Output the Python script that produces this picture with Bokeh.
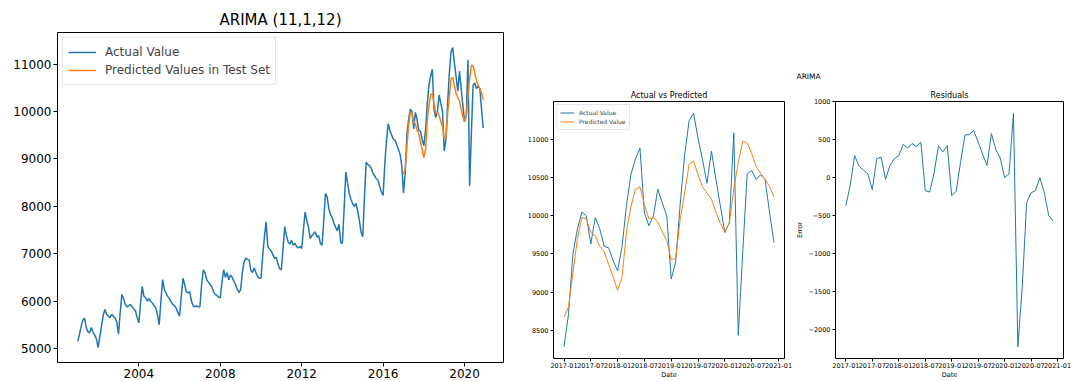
from bokeh.plotting import figure
from bokeh.layouts import row, column
from bokeh.models import Range1d, FixedTicker, Legend, LegendItem, Title
from bokeh.embed import file_html
from bokeh.resources import INLINE

FONT = "DejaVu Sans"
BLUE = "#1f77b4"
ORANGE = "#ff7f0e"

# ---- monthly actual values (training years) ----
actual_2001 = [5150, 5300, 5470, 5600, 5640, 5440, 5350, 5330, 5440, 5340, 5280, 5200]
actual_2002 = [5020, 5250, 5470, 5700, 5820, 5720, 5680, 5650, 5720, 5680, 5640, 5560]
actual_2003 = [5300, 5750, 6140, 6050, 5930, 5880, 5900, 5930, 5880, 5830, 5800, 5650]
actual_2004 = [5540, 5950, 6310, 6100, 6070, 6000, 6050, 5990, 5960, 5900, 5850, 5700]
actual_2005 = [5500, 6000, 6450, 6250, 6170, 6100, 6050, 5990, 5930, 5900, 5850, 5760]
actual_2006 = [5680, 6100, 6480, 6350, 6200, 6170, 6200, 6000, 5900, 5880, 5900, 5880]
actual_2007 = [5880, 6350, 6660, 6600, 6450, 6400, 6350, 6300, 6200, 6140, 6120, 6080]
actual_2008 = [6070, 6400, 6660, 6500, 6600, 6450, 6550, 6500, 6420, 6350, 6250, 6180]
actual_2009 = [6240, 6600, 6820, 6910, 6880, 6870, 6650, 6600, 6700, 6600, 6520, 6480]
actual_2010 = [6480, 6950, 7350, 7670, 7150, 7100, 7060, 6980, 6900, 6920, 6780, 6680]
actual_2011 = [6660, 7100, 7570, 7380, 7250, 7200, 7280, 7180, 7220, 7150, 7120, 7150]
actual_2012 = [7110, 7500, 7880, 7700, 7560, 7320, 7380, 7420, 7460, 7350, 7380, 7220]
actual_2013 = [7180, 7700, 8270, 8200, 7950, 7820, 7760, 7640, 7560, 7480, 7620, 7230]
actual_2014 = [7220, 7950, 8720, 8500, 8270, 8150, 8060, 8000, 8060, 7900, 7700, 7450]
actual_2015 = [7360, 8200, 8930, 8880, 8860, 8800, 8700, 8640, 8580, 8550, 8420, 8300]
actual_2016 = [8230, 8900, 9400, 9740, 9600, 9500, 9420, 9390, 9300, 9200, 9100, 8850]

# ---- test period 2017-01 .. 2020-12 ----
test_actual = [
    8280, 8700, 9500, 9830, 10050, 10000, 9630, 9980, 9830, 9600, 9580, 9410,
    9280, 9600, 10150, 10550, 10750, 10890, 10040, 9870, 10000, 10350, 10170, 10000,
    9170, 9400, 10150, 10800, 11250, 11350, 11020, 10740, 10430, 10850, 10480, 10130,
    9780, 9910, 11090, 8430, 9520, 10550, 10600, 10480, 10540, 10480, 10050, 9650]
test_predicted = [
    8670, 8800, 9250, 9700, 9980, 9960, 9780, 9740, 9600, 9530, 9360, 9200,
    9020, 9200, 9800, 10130, 10350, 10380, 10150, 9960, 9980, 9920, 9790, 9680,
    9420, 9450, 9950, 10300, 10680, 10720, 10540, 10380, 10300, 10220, 10050, 9900,
    9790, 9910, 10350, 10700, 10980, 10960, 10820, 10650, 10560, 10480, 10390, 10250]
test_residuals = [
    -370, -100, 290, 150, 100, 50, -160, 250, 270, -20, 160, 250,
    290, 440, 390, 450, 410, 470, -170, -190, 60, 420, 340, 420,
    -240, -180, 200, 560, 570, 620, 470, 310, 160, 580, 370, 260,
    0, 50, 850, -2230, -1430, -330, -200, -170, 0, -200, -500, -570]

left_year_ticks = [2004, 2008, 2012, 2016, 2020]
left_value_ticks = [5000, 6000, 7000, 8000, 9000, 10000, 11000]
test_month_ticks = [0, 6, 12, 18, 24, 30, 36, 42, 48]
test_month_labels = ["2017-01", "2017-07", "2018-01", "2018-07", "2019-01",
                     "2019-07", "2020-01", "2020-07", "2021-01"]
middle_value_ticks = [8500, 9000, 9500, 10000, 10500, 11000]
residual_ticks = [-2000, -1500, -1000, -500, 0, 500, 1000]

full_actual = (actual_2001 + actual_2002 + actual_2003 + actual_2004 + actual_2005 +
               actual_2006 + actual_2007 + actual_2008 + actual_2009 + actual_2010 +
               actual_2011 + actual_2012 + actual_2013 + actual_2014 + actual_2015 +
               actual_2016 + test_actual)
t_full = [2001 + i / 12 for i in range(len(full_actual))]
t_test = [2017 + i / 12 for i in range(len(test_actual))]
m_test = list(range(len(test_actual)))


def padded(values, frac=0.05):
    lo, hi = min(values), max(values)
    d = (hi - lo) * frac
    return Range1d(lo - d, hi + d)


def style(p, tick_size, label_size=None):
    p.grid.visible = False
    p.outline_line_color = "black"
    p.outline_line_width = 1
    p.background_fill_color = "white"
    p.border_fill_color = "white"
    for ax in p.axis:
        ax.axis_line_color = None
        ax.major_tick_out = 3
        ax.major_tick_in = 0
        ax.major_tick_line_color = "black"
        ax.minor_tick_line_color = None
        ax.major_label_text_font = FONT
        ax.major_label_text_font_size = tick_size
        ax.major_label_text_color = "black"
        ax.major_label_standoff = 2
        ax.axis_label_text_font = FONT
        ax.axis_label_text_font_style = "normal"
        ax.axis_label_text_font_size = label_size or tick_size
        ax.axis_label_text_color = "black"
        ax.axis_label_standoff = 2
    p.title.text_font = FONT
    p.title.text_font_style = "normal"
    p.title.align = "center"
    p.title.text_color = "black"


# ---------------- left: full series ----------------
p1 = figure(width=520, height=381, x_range=padded(t_full), y_range=padded(full_actual),
            output_backend="svg", toolbar_location=None, title="ARIMA (11,1,12)",
            min_border_left=57, min_border_right=17, min_border_top=32, min_border_bottom=19)
style(p1, "12px")
p1.title.text_font_size = "15px"
p1.title.standoff = 8
p1.xaxis.ticker = FixedTicker(ticks=left_year_ticks)
p1.yaxis.ticker = FixedTicker(ticks=left_value_ticks)
p1.xaxis.major_tick_out = 4
p1.yaxis.major_tick_out = 4
r1 = p1.line(t_full, full_actual, line_color=BLUE, line_width=1.5)
r2 = p1.line(t_test, test_predicted, line_color=ORANGE, line_width=1.5)
leg1 = Legend(items=[LegendItem(label="Actual Value", renderers=[r1]),
                     LegendItem(label="Predicted Values in Test Set", renderers=[r2])],
              location="top_left", margin=5, padding=5, spacing=0,
              label_text_font=FONT, label_text_font_size="12px",
              label_height=18, glyph_height=18, glyph_width=28, label_standoff=9,
              border_line_color="#cccccc", border_line_width=1,
              background_fill_alpha=0.8)
p1.add_layout(leg1)

# ---------------- middle: actual vs predicted ----------------
p2 = figure(width=272, height=381, x_range=padded(m_test), y_range=padded(test_actual + test_predicted),
            output_backend="svg", toolbar_location=None, title="Actual vs Predicted",
            min_border_left=33, min_border_right=8, min_border_top=101, min_border_bottom=20)
style(p2, "6.5px")
p2.title.text_font_size = "8px"
p2.title.standoff = 4
p2.xaxis.ticker = FixedTicker(ticks=test_month_ticks)
p2.xaxis.major_label_overrides = dict(zip(test_month_ticks, test_month_labels))
p2.yaxis.ticker = FixedTicker(ticks=middle_value_ticks)
p2.xaxis.axis_label = "Date"
p2.xaxis.major_label_standoff = 1
p2.xaxis.axis_label_standoff = 0
b2 = p2.line(m_test, test_actual, line_color=BLUE, line_width=1)
o2 = p2.line(m_test, test_predicted, line_color=ORANGE, line_width=1)
leg2 = Legend(items=[LegendItem(label="Actual Value", renderers=[b2]),
                     LegendItem(label="Predicted Value", renderers=[o2])],
              location="top_left", margin=3, padding=3, spacing=0,
              label_text_font=FONT, label_text_font_size="6px",
              label_height=9, glyph_height=9, glyph_width=14, label_standoff=5,
              border_line_color="#cccccc", border_line_width=1,
              background_fill_alpha=0.8)
p2.add_layout(leg2)

# ---------------- right: residuals ----------------
p3 = figure(width=281, height=381, x_range=padded(m_test), y_range=padded(test_residuals),
            output_backend="svg", toolbar_location=None, title="ARIMA",
            min_border_left=40, min_border_right=10, min_border_top=101, min_border_bottom=20)
style(p3, "6.5px")
p3.title.align = "left"
p3.title.offset = -39
p3.title.text_font_size = "7.5px"
p3.title.standoff = 12
p3.add_layout(Title(text="Residuals", align="center", text_font=FONT,
                    text_font_style="normal", text_font_size="8px",
                    text_color="black", standoff=4), "above")
p3.xaxis.ticker = FixedTicker(ticks=test_month_ticks)
p3.xaxis.major_label_overrides = dict(zip(test_month_ticks, test_month_labels))
p3.yaxis.ticker = FixedTicker(ticks=residual_ticks)
p3.yaxis.major_label_overrides = {v: str(v).replace("-", "\u2212") for v in residual_ticks}
p3.xaxis.axis_label = "Date"
p3.yaxis.axis_label = "Error"
p3.xaxis.major_label_standoff = 1
p3.xaxis.axis_label_standoff = 0
p3.line(m_test, test_residuals, line_color=BLUE, line_width=1)

layout = row(column(p1), column(p2), column(p3))
open("out.html", "w").write(file_html(layout, INLINE))
